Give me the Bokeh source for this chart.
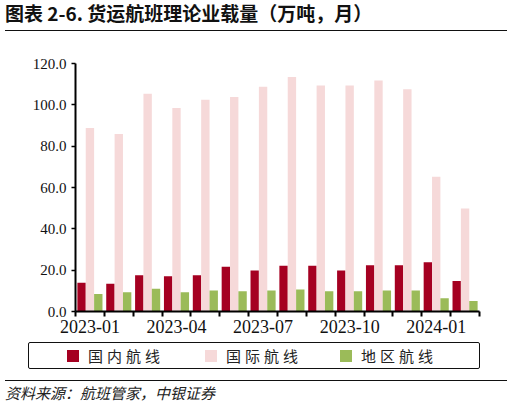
from bokeh.plotting import figure
from bokeh.models import (ColumnDataSource, Range1d, FixedTicker, NumeralTickFormatter, Div)
from bokeh.layouts import column
from bokeh.transform import dodge
from bokeh.embed import file_html
from bokeh.resources import INLINE

# ---- data ----
months = ["2023-01", "2023-02", "2023-03", "2023-04", "2023-05", "2023-06", "2023-07",
          "2023-08", "2023-09", "2023-10", "2023-11", "2023-12", "2024-01", "2024-02"]
domestic = [13.9, 13.4, 17.6, 17.1, 17.6, 21.6, 19.8, 22.1, 22.1, 19.8, 22.4, 22.4, 23.8, 14.7]
international = [88.8, 85.9, 105.4, 98.5, 102.5, 103.8, 108.8, 113.5, 109.3, 109.3, 111.8, 107.5, 65.2, 49.8]
regional = [8.5, 9.3, 11.0, 9.3, 10.2, 9.8, 10.2, 10.7, 9.8, 9.8, 10.2, 10.2, 6.4, 5.1]
series_names = ["国内航线", "国际航线", "地区航线"]
y_ticks = [0, 20, 40, 60, 80, 100, 120]
label_every = 3
title_text = "图表 2-6. 货运航班理论业载量（万吨，月）"
source_text = "资料来源：航班管家，中银证券"

colors = ["#A50021", "#F6D9D9", "#9BBB59"]
CJK = "Noto Sans CJK SC"
SERIF = "Liberation Serif"

xs = [i + 0.5 for i in range(len(months))]
src = ColumnDataSource(dict(x=xs, month=months, dom=domestic, intl=international, reg=regional))

W = 507
TITLE_H = 32
ML, MR, MT, MB = 75, 28, 31, 30
FRAME_H = 248
FIG_H = MT + FRAME_H + MB          # 309 -> ends at y=341
LEG_H = 39                         # 341 .. 380
SRC_H = 26                         # 380 .. 406

# ---- title ----
title_div = Div(
    text=(f'<div style="margin-left:5px;width:502px;height:30.5px;box-sizing:border-box;'
          f'border-bottom:1.5px solid #111;padding-top:1px;font-family:\'{CJK}\';'
          f'font-weight:bold;font-size:19px;line-height:23px;color:#111;white-space:nowrap;'
          f'overflow:visible;">'
          f'{title_text}</div>'),
    width=W, height=TITLE_H, margin=0)

# ---- main chart ----
p = figure(width=W, height=FIG_H, output_backend="svg", toolbar_location=None,
           x_range=Range1d(0, len(months)), y_range=Range1d(y_ticks[0], y_ticks[-1]),
           min_border_left=ML, min_border_right=MR, min_border_top=MT, min_border_bottom=MB)
p.outline_line_color = None
p.xgrid.visible = False
p.ygrid.visible = False
p.background_fill_color = "white"
p.border_fill_color = "white"

bw = 0.29
p.vbar(x=dodge("x", -bw, range=p.x_range), top="dom", width=bw, source=src,
       fill_color=colors[0], line_color=None)
p.vbar(x=dodge("x", 0, range=p.x_range), top="intl", width=bw, source=src,
       fill_color=colors[1], line_color=None)
p.vbar(x=dodge("x", bw, range=p.x_range), top="reg", width=bw, source=src,
       fill_color=colors[2], line_color=None)

label_pos = xs[::label_every]
p.xaxis.ticker = FixedTicker(ticks=label_pos, minor_ticks=list(range(len(months) + 1)))
p.xaxis.major_label_overrides = {x: m for x, m in zip(label_pos, months[::label_every])}
p.xaxis.major_tick_out = 0
p.xaxis.major_tick_in = 0
p.xaxis.minor_tick_out = 5
p.xaxis.minor_tick_in = 0
p.xaxis.minor_tick_line_color = "black"
p.xaxis.minor_tick_line_width = 2
p.xaxis.axis_line_width = 2
p.xaxis.axis_line_color = "black"
p.xaxis.major_label_text_font = SERIF
p.xaxis.major_label_text_font_size = "18px"
p.xaxis.major_label_text_color = "#111111"
p.xaxis.major_label_standoff = 3

p.yaxis.ticker = FixedTicker(ticks=y_ticks)
p.yaxis.formatter = NumeralTickFormatter(format="0.0")
p.yaxis.major_tick_out = 4
p.yaxis.major_tick_in = 0
p.yaxis.minor_tick_out = 0
p.yaxis.minor_tick_in = 0
p.yaxis.major_tick_line_width = 1.5
p.yaxis.axis_line_width = 2
p.yaxis.axis_line_color = "black"
p.yaxis.major_label_text_font = SERIF
p.yaxis.major_label_text_font_size = "15px"
p.yaxis.major_label_text_color = "#111111"
p.yaxis.major_label_standoff = 5

# ---- legend strip (HTML) ----
glyph_left = [67, 205, 340]
items_html = ""
for name, c, gx in zip(series_names, colors, glyph_left):
    items_html += (f'<div style="position:absolute;left:{gx}px;top:9px;width:12px;height:12px;'
                   f'background:{c};"></div>'
                   f'<div style="position:absolute;left:{gx + 21}px;top:5px;height:20px;'
                   f'font-family:\'{CJK}\';font-size:15px;line-height:20px;letter-spacing:4px;'
                   f'color:#222;white-space:nowrap;">{name}</div>')
legend_div = Div(
    text=(f'<div style="position:relative;width:{W}px;height:{LEG_H}px;">'
          f'<div style="position:absolute;left:28px;top:1px;width:452px;height:27px;'
          f'box-sizing:border-box;border:1.5px solid #111;border-radius:2px;"></div>'
          f'{items_html}</div>'),
    width=W, height=LEG_H, margin=0)

# ---- source ----
src_div = Div(
    text=(f'<div style="margin-left:5px;width:502px;height:{SRC_H}px;box-sizing:border-box;'
          f'border-top:1px solid #111;padding-top:2px;font-family:\'{CJK}\';font-style:italic;'
          f'font-size:15px;line-height:19px;color:#222;white-space:nowrap;">'
          f'{source_text}</div>'),
    width=W, height=SRC_H, margin=0)

layout = column(title_div, p, legend_div, src_div, spacing=0)
open("out.html", "w").write(file_html(layout, INLINE))
